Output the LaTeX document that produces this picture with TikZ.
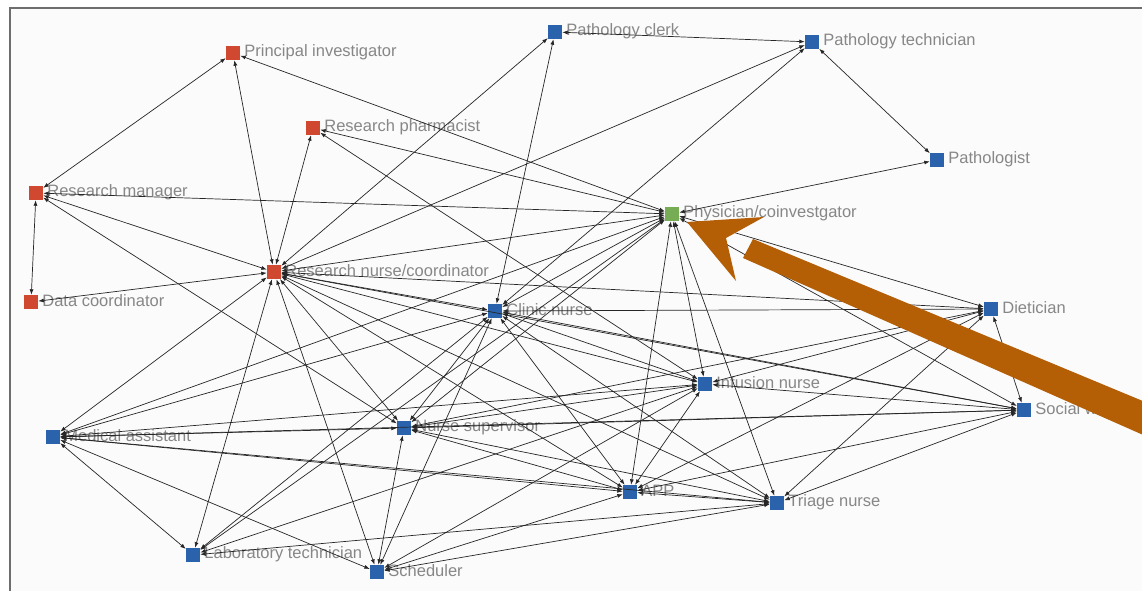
\documentclass[tikz,border=0pt]{standalone}
\usepackage{fontspec}
\setmainfont{Liberation Sans}
\usetikzlibrary{arrows.meta}
\definecolor{nred}{RGB}{208,72,48}
\definecolor{nblue}{RGB}{42,98,172}
\definecolor{ngreen}{RGB}{118,172,84}
\definecolor{labgray}{RGB}{135,135,135}
\definecolor{pointer}{RGB}{180,94,6}
\definecolor{framegray}{RGB}{110,110,110}
\definecolor{bgpaper}{RGB}{251,251,251}
\begin{document}
\begin{tikzpicture}[x=1pt,y=-1pt,
  sq/.style={rectangle, minimum size=14pt, inner sep=0pt, draw=none},
  lab/.style={anchor=west, text=labgray, font=\fontsize{16.5}{18}\selectfont, inner sep=0pt, xshift=4pt, yshift=1pt},
  link/.style={draw=black!85, line width=0.7pt, {Latex[length=5.5pt,width=4pt]}-{Latex[length=5.5pt,width=4pt]}},
  frameline/.style={draw=framegray, line width=1.2pt},
  pointerfill/.style={fill=pointer, draw=none}]
\useasboundingbox (0,0) rectangle (1142,591);
\clip (0,0) rectangle (1142,591);
\fill[white] (0,0) rectangle (1142,591);
\fill[bgpaper] (10,8) rectangle (1142,591);
\draw[frameline] (10,591) -- (10,8) -- (1142,8);
% nodes
\foreach \n/\p/\c/\t in {
  PI/{233,53}/nred/Principal investigator,
  RPh/{313,128}/nred/Research pharmacist,
  RM/{36,193}/nred/Research manager,
  DC/{31,302}/nred/Data coordinator,
  RNC/{274,272}/nred/Research nurse\slash coordinator,
  PC/{555,32}/nblue/Pathology clerk,
  PT/{812,42}/nblue/Pathology technician,
  PA/{937,160}/nblue/Pathologist,
  PH/{672,214}/ngreen/Physician\slash coinvestgator,
  CN/{495,311}/nblue/Clinic nurse,
  DI/{991,309}/nblue/Dietician,
  IN/{705,384}/nblue/Infusion nurse,
  SW/{1024,410}/nblue/Social worker,
  MA/{53,437}/nblue/Medical assistant,
  NS/{404,428}/nblue/Nurse supervisor,
  APP/{630,492}/nblue/APP,
  TR/{777,503}/nblue/Triage nurse,
  LT/{193,555}/nblue/Laboratory technician,
  SC/{377,572}/nblue/Scheduler}
{
  \node[sq, fill=\c] (\n) at (\p) {};
  \node[lab] (\n-l) at (\n.east) {\t};
}
% connectors
\foreach \a/\b in {
  PI/RM, PI/RNC, PI/PH,
  RM/DC, RM/PH, RM/RNC, RM/NS,
  DC/RNC,
  RPh/RNC, RPh/PH, RPh/IN,
  PC/PT, PC/RNC, PC/CN,
  PT/PA, PT/RNC, PT/CN,
  PA/PH,
  RNC/PH, RNC/MA, RNC/LT, RNC/SC, RNC/NS, RNC/CN, RNC/IN, RNC/APP, RNC/TR, RNC/DI, RNC/SW,
  PH/MA, PH/CN, PH/NS, PH/LT, PH/IN, PH/APP, PH/TR, PH/DI, PH/SW,
  CN/DI, CN/SW, CN/IN, CN/APP, CN/TR, CN/NS, CN/SC, CN/LT, CN/MA,
  DI/SW, DI/IN, DI/NS, DI/APP, DI/TR,
  SW/IN, SW/NS, SW/APP, SW/TR, SW/MA,
  IN/NS, IN/MA, IN/APP, IN/SC, IN/LT,
  NS/MA, NS/SC, NS/APP, NS/TR,
  APP/MA, APP/SC, APP/TR,
  TR/MA, TR/SC, TR/LT,
  MA/LT, MA/SC}
{
  \draw[link] (\a) -- (\b);
}
% orange pointer
\fill[pointerfill] (687,222) -- (764,217) -- (726,238) -- (736,281) -- cycle;
\fill[pointerfill] (753,239) -- (1150,404) -- (1150,438) -- (743,258) -- cycle;
\end{tikzpicture}
\end{document}
